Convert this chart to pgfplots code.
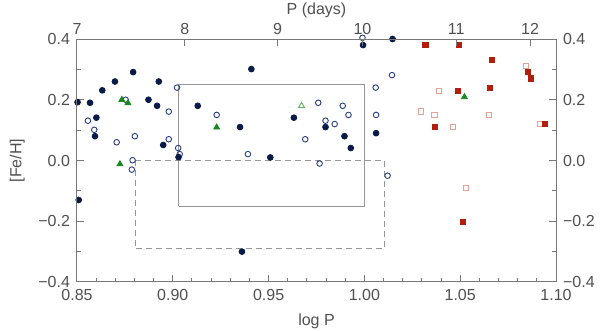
\documentclass[border=0pt]{standalone}
\usepackage{fontspec}
\setmainfont{Liberation Sans}
\usepackage{pgfplots}
\pgfplotsset{compat=1.18}
\usetikzlibrary{calc}
\definecolor{framegray}{RGB}{120,120,120}
\definecolor{textgray}{RGB}{80,80,80}
\definecolor{boxgray}{RGB}{150,150,150}
\definecolor{navyfill}{RGB}{10,26,72}
\definecolor{navyopen}{RGB}{40,60,130}
\definecolor{greentri}{RGB}{25,135,30}
\definecolor{greenopen}{RGB}{95,175,95}
\definecolor{redsq}{RGB}{178,30,14}
\definecolor{salmonsq}{RGB}{230,160,145}

\begin{document}
\begin{tikzpicture}
\pgfplotsset{base/.style={
  scale only axis, width=239.5pt, height=121.5pt,
  xmin=0.85, xmax=1.10, ymin=-0.4, ymax=0.4,
  axis line style={draw=framegray, line width=0.5pt},
  tick style={draw=framegray, line width=0.5pt},
  major tick length=3.5pt, minor tick length=2pt,
  ticklabel style={font=\fontsize{8}{9}\selectfont, text=textgray},
  label style={font=\fontsize{8}{9}\selectfont, text=textgray},
  ytick={-0.4,-0.2,0,0.2,0.4},
  yticklabels={−0.4,−0.2,0.0,0.2,0.4},
  minor y tick num=1,
}}
% ---------- main axis: log P (bottom), [Fe/H] (left) ----------
\begin{axis}[base, name=main,
  xtick={0.85,0.90,0.95,1.00,1.05,1.10},
  xticklabels={0.85,0.90,0.95,1.00,1.05,1.10},
  minor x tick num=4,
  xtick pos=lower, ytick pos=left,
  xlabel={log P}, ylabel={[Fe/H]},
  clip=false,
]
% boxes
\addplot[draw=boxgray, line width=0.5pt, no marks]
  coordinates {(0.9031,-0.15) (1.0,-0.15) (1.0,0.25) (0.9031,0.25) (0.9031,-0.15)};
\addplot[draw=boxgray, line width=0.5pt, no marks, dash pattern=on 3pt off 2pt]
  coordinates {(0.8804,0) (1.0106,0) (1.0106,-0.29) (0.8804,-0.29) (0.8804,0)};
% open circles
\addplot[only marks, mark=o, mark size=1.4pt, draw=navyopen, line width=0.45pt]
  coordinates {
    (0.8557,0.131) (0.8590,0.101) (0.8754,0.200) (0.8707,0.060) (0.8802,0.080)
    (0.8979,0.161) (0.8979,0.070) (0.9022,0.240) (0.9028,0.041) (0.9036,0.021)
    (0.8790,0.001) (0.8786,-0.030) (0.9229,0.150) (0.9392,0.021) (0.9759,0.190)
    (0.9691,0.070) (0.9766,-0.010) (0.9887,0.180) (0.9917,0.150) (0.9797,0.131)
    (0.9845,0.120) (1.0144,0.281) (1.0059,0.240) (1.0061,0.150) (1.0121,-0.050)
    (0.9990,0.404)
  };
% filled circles
\addplot[only marks, mark=*, mark size=1.45pt, color=navyfill]
  coordinates {
    (0.8503,0.192) (0.8509,-0.130)
    (0.8568,0.190) (0.8632,0.231) (0.8698,0.260) (0.8793,0.291) (0.8927,0.260)
    (0.8873,0.200) (0.8918,0.180) (0.8601,0.141) (0.8594,0.080) (0.8950,0.051)
    (0.9030,0.011) (0.9130,0.180) (0.9410,0.301) (0.9351,0.110) (0.9509,0.010)
    (0.9632,0.141) (0.9361,-0.300) (0.9797,0.110) (0.9896,0.080) (0.9929,0.041)
    (0.9993,0.380) (1.0147,0.400) (1.0061,0.090)
  };
% open red squares
\addplot[only marks, mark=square, mark size=1.3pt, draw=salmonsq, line width=0.5pt]
  coordinates {
    (1.0842,0.311) (1.0391,0.230) (1.0366,0.150) (1.0651,0.150) (1.0464,0.110)
    (1.0915,0.120) (1.0297,0.161) (1.0530,-0.090)
  };
% filled red squares
\addplot[only marks, mark=square*, mark size=1.3pt, color=redsq]
  coordinates {
    (1.0318,0.380) (1.0493,0.380) (1.0665,0.331) (1.0488,0.230) (1.0656,0.240)
    (1.0854,0.291) (1.0868,0.270) (1.0944,0.120) (1.0366,0.110) (1.0514,-0.201)
  };
% green triangles
\addplot[only marks, mark=triangle, mark size=1.7pt, draw=greenopen, line width=0.45pt]
  coordinates {(0.9672,0.180)};
\addplot[only marks, mark=triangle*, mark size=1.7pt, color=greentri]
  coordinates {(0.8734,0.200) (0.8766,0.189) (0.8724,-0.012) (0.9229,0.109) (1.0522,0.209)};
\end{axis}
% ---------- second axis: P (days) on top, [Fe/H] on the right ----------
\begin{axis}[base,
  xtick={0.85,0.90625,0.95469,0.99896,1.04792,1.08646},
  xticklabels={7,8,9,10,11,12},
  xtick pos=upper, xticklabel pos=upper,
  xticklabel style={yshift=-1.5pt},
  ytick pos=right, yticklabel pos=right,
  xlabel={P (days)},
  xlabel style={at={(axis description cs:0.5,1)}, anchor=center, yshift=14.5pt},
]
\end{axis}
\pgfresetboundingbox
\useasboundingbox ($(main.south west)+(-38.5pt,-24.5pt)$) rectangle ($(main.north east)+(22pt,19.5pt)$);
\end{tikzpicture}
\end{document}
